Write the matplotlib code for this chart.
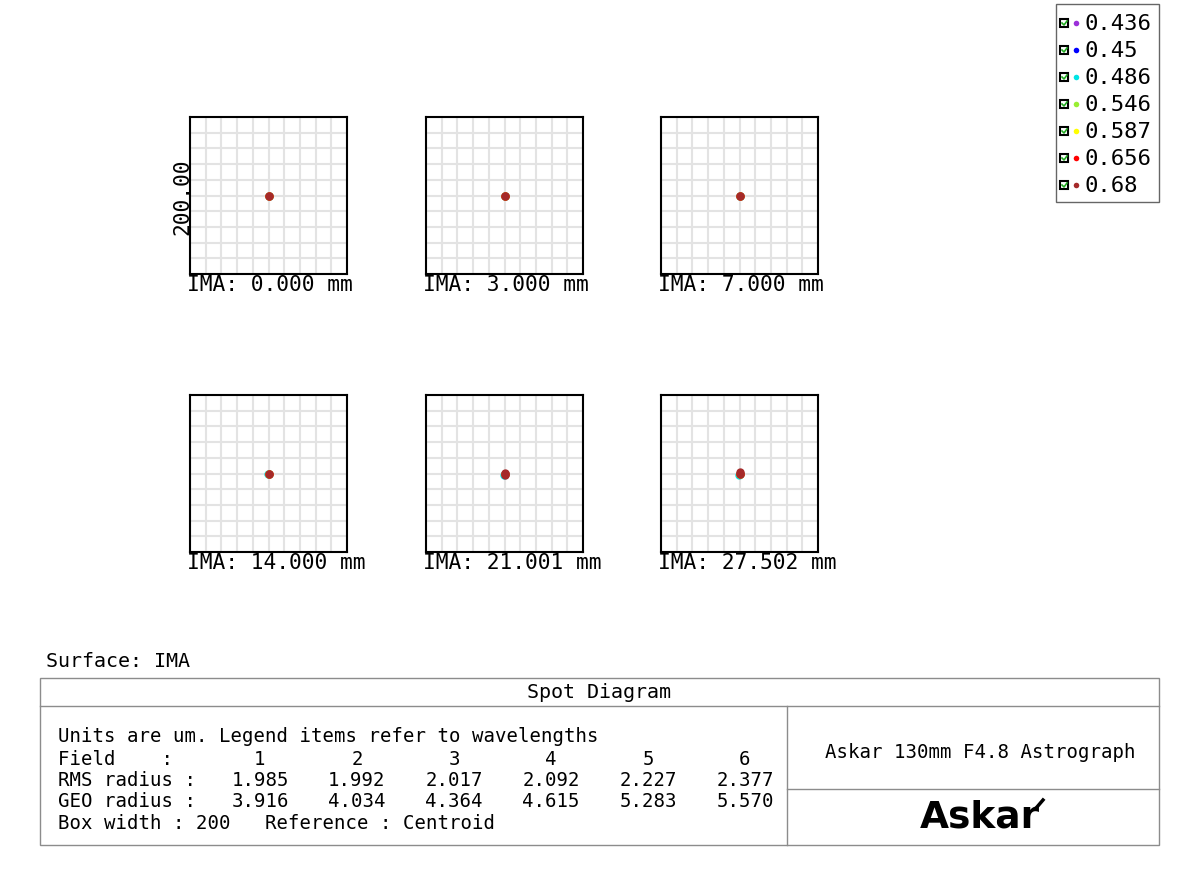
import matplotlib.pyplot as plt
from matplotlib.lines import Line2D
from matplotlib.patches import Rectangle

plt.rcParams['font.family'] = ['DejaVu Sans Mono']

# wavelengths (um) and their colours
wavelengths = ['0.436', '0.45', '0.486', '0.546', '0.587', '0.656', '0.68']
wave_colors = ['#9b30d9', '#0000ff', '#00e5e5', '#99ee33', '#ffff00', '#ff0000', '#a52a2a']

# field positions (mm)
fields = ['0.000', '3.000', '7.000', '14.000', '21.001', '27.502']

# spot centroid offsets per field, one value per wavelength (um)
spot_dx = [
    [0, 0, 0, 0, 0, 0, 0],
    [0, 0, 0, 0, 0, 0, 0],
    [0, 0, 0, 0, 0, 0, 0],
    [0, 0, -0.8, 0, 0, 0, 0],
    [0, 0, -1.0, 0, 0, 0, 0],
    [0, 0, -1.2, 0, 0, 0, 0],
]
spot_dy = [
    [0, 0, 0, 0, 0, 0, 0],
    [0, 0, 0, 0, 0, 0, 0],
    [0, 0, 0, 0, 0, 0, 0],
    [0, 0, -1.0, 0, 0, 0, 0],
    [0, 0, -1.5, 0, 0, 0, 1.2],
    [0, 0, -1.8, 0, 0, 0, 1.6],
]

rms_radius = ['1.985', '1.992', '2.017', '2.092', '2.227', '2.377']
geo_radius = ['3.916', '4.034', '4.364', '4.615', '5.283', '5.570']
box_width = 200

W, H = 1200, 879
fig = plt.figure(figsize=(W / 100, H / 100), dpi=100)


def fx(px):
    return px / W


def fy(py):
    return 1 - py / H


box_left = [190, 426, 661]
box_top = [118, 396]
box_size = 157

for i, field in enumerate(fields):
    left = box_left[i % 3]
    top = box_top[i // 3]
    ax = fig.add_axes([fx(left), fy(top + box_size), box_size / W, box_size / H])
    ax.set_xlim(-box_width / 2, box_width / 2)
    ax.set_ylim(-box_width / 2, box_width / 2)
    ticks = range(-100, 101, 20)
    ax.set_xticks(ticks)
    ax.set_yticks(ticks)
    ax.grid(True, color='#e3e3e3', linewidth=1.5)
    ax.set_axisbelow(True)
    ax.tick_params(length=0, labelbottom=False, labelleft=False)
    for s in ax.spines.values():
        s.set_linewidth(1.5)
        s.set_color('black')
    for k in range(len(wavelengths)):
        ax.plot(spot_dx[i][k], spot_dy[i][k], 'o', color=wave_colors[k],
                markersize=6, markeredgewidth=0)
    if i >= 4:
        # the longest-wavelength spot is slightly stretched in y
        ax.plot(spot_dx[i][6], spot_dy[i][6] - 2.5, 'o', color=wave_colors[6],
                markersize=6, markeredgewidth=0)
    fig.text(fx(left - 3), fy(top + box_size + 10), 'IMA: %s mm' % field,
             fontsize=15.3, ha='left', va='center')
    if i == 0:
        fig.text(fx(left - 8), fy(top + box_size / 2), '%.2f' % box_width,
                 fontsize=15.3, rotation=90, ha='center', va='center')

# legend box (top right)
fig.patches.append(Rectangle((fx(1056), fy(203)), 103 / W, 198 / H,
                             transform=fig.transFigure, fill=False,
                             edgecolor='#666666', linewidth=1))
for k, wl in enumerate(wavelengths):
    y = 24 + 27 * k
    fig.patches.append(Rectangle((fx(1060), fy(y + 4)), 8 / W, 8 / H,
                                 transform=fig.transFigure, facecolor='white',
                                 edgecolor='black', linewidth=1.5))
    fig.lines.append(Line2D([fx(1062), fx(1064), fx(1067)],
                            [fy(y), fy(y + 2), fy(y - 2)],
                            transform=fig.transFigure, color='#22aa22', linewidth=1.2))
    fig.lines.append(Line2D([fx(1076)], [fy(y)], transform=fig.transFigure,
                            marker='o', markersize=4, markeredgewidth=0,
                            color=wave_colors[k]))
    fig.text(fx(1084), fy(y), wl, fontsize=16, ha='left', va='center')

# bottom table
fig.text(fx(46), fy(662), 'Surface: IMA', fontsize=14.4, ha='left', va='center')
line_kw = dict(transform=fig.transFigure, color='#8c8c8c', linewidth=1)
fig.patches.append(Rectangle((fx(40), fy(846)), 1119 / W, 167 / H,
                             transform=fig.transFigure, fill=False,
                             edgecolor='#8c8c8c', linewidth=1))
fig.lines.append(Line2D([fx(40), fx(1159)], [fy(707), fy(707)], **line_kw))
fig.lines.append(Line2D([fx(787), fx(787)], [fy(707), fy(846)], **line_kw))
fig.lines.append(Line2D([fx(787), fx(1159)], [fy(790), fy(790)], **line_kw))
fig.text(fx(599), fy(693), 'Spot Diagram', fontsize=14.4, ha='center', va='center')

fig.text(fx(58), fy(737), 'Units are um. Legend items refer to wavelengths',
         fontsize=13.7, ha='left', va='center')
fig.text(fx(58), fy(760), 'Field    :', fontsize=13.7, ha='left', va='center')
fig.text(fx(58), fy(781), 'RMS radius :', fontsize=13.7, ha='left', va='center')
fig.text(fx(58), fy(802), 'GEO radius :', fontsize=13.7, ha='left', va='center')
col_x = [260, 357, 454, 551, 648, 745]
for j in range(len(fields)):
    fig.text(fx(col_x[j]), fy(760), str(j + 1), fontsize=13.7, ha='center', va='center')
    fig.text(fx(col_x[j]), fy(781), rms_radius[j], fontsize=13.7, ha='center', va='center')
    fig.text(fx(col_x[j]), fy(802), geo_radius[j], fontsize=13.7, ha='center', va='center')
fig.text(fx(58), fy(824), 'Box width : %d   Reference : Centroid' % box_width,
         fontsize=13.7, ha='left', va='center')

fig.text(fx(980), fy(753), 'Askar 130mm F4.8 Astrograph', fontsize=13.7,
         ha='center', va='center')
fig.text(fx(980), fy(818), 'Askar', fontsize=27, fontweight='bold',
         family='DejaVu Sans', ha='center', va='center')
fig.lines.append(Line2D([fx(1037), fx(1043)], [fy(808), fy(801)],
                        transform=fig.transFigure, color='black', linewidth=2.5))

fig.savefig('out.png', dpi=100)
